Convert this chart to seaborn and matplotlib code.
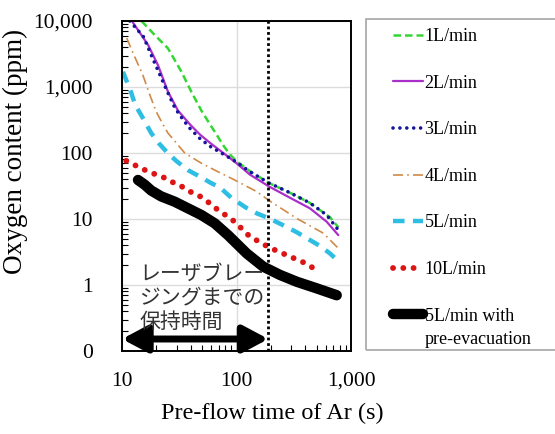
import numpy as np
import pandas as pd
import matplotlib
matplotlib.use("Agg")
import matplotlib.pyplot as plt
import seaborn as sns
from matplotlib.ticker import LogLocator, NullFormatter, FixedLocator, FixedFormatter
from matplotlib.patches import Rectangle, FancyArrowPatch, ArrowStyle

# ---------------- data ----------------
t_1 = [14.8, 19.3, 25.2, 33, 40.3, 49.3, 58.8, 67, 76.7, 87.7, 100, 131, 193, 293, 438, 656, 775]
o_1 = [10000, 6140, 3850, 1710, 849, 440, 270, 190, 130, 95, 75, 53, 35, 25, 17.5, 10.6, 7.5]

t_2 = [12.2, 16.9, 20.6, 25.2, 30.8, 39.3, 48, 58.8, 76.7, 100, 131, 193, 293, 438, 613, 775]
o_2 = [10000, 4330, 2150, 849, 440, 270, 190, 142, 100, 70, 47, 31, 21, 14.5, 9.1, 5.7]

t_3 = [11.7, 15.4, 18.8, 24.5, 29, 34.3, 39.3, 48, 58.8, 76.7, 100, 131, 193, 293, 438, 613, 775]
o_3 = [10000, 5780, 2560, 902, 480, 316, 235, 165, 126, 96, 73, 52, 35, 25, 17.5, 11.5, 6.8]

t_4 = [11, 12.5, 15.2, 17.5, 19.9, 22.8, 25.2, 30, 35.3, 49.3, 68.9, 96.4, 150, 193, 336, 573, 800]
o_4 = [5500, 3250, 1520, 757, 423, 270, 200, 140, 100, 70, 52, 39, 26, 19, 10.2, 6.1, 3.4]

t_5 = [10.2, 12.1, 13, 15.2, 18, 21, 25.2, 30, 37.7, 50, 60, 71.8, 90, 120, 150, 193, 250, 336, 536, 656, 775]
o_5 = [1700, 800, 540, 340, 200, 140, 99, 75, 55, 42, 35, 30, 21, 15, 12.2, 10.2, 8.2, 6.3, 3.9, 3.0, 2.3]

t_10 = [10.9, 13.3, 16.3, 19.3, 23.6, 27, 31.9, 37.7, 46.1, 54.5, 68.9, 84.3, 96.4, 107, 131, 159, 193, 293, 410, 519]
o_10 = [76, 64, 54, 48, 42, 36.7, 32.7, 26.8, 23.1, 19, 13.7, 10.8, 9.1, 7.6, 5.4, 4.5, 3.7, 2.7, 2.1, 1.6]

t_5e = [13.8, 15.8, 18, 22, 28.8, 37.7, 49.3, 64.5, 84.3, 99.5, 123, 171, 240, 336, 501, 750]
o_5e = [39, 33, 27, 22, 18.3, 14.5, 11.5, 8.6, 5.7, 4.3, 3.0, 1.9, 1.42, 1.12, 0.89, 0.70]

series_labels = ["1L/min", "2L/min", "3L/min", "4L/min", "5L/min", "10L/min", "5L/min with"]
label_extra = "pre-evacuation"

x_ticks = [10, 100, 1000]
x_tick_labels = ["10", "100", "1,000"]
y_ticks = [0.1, 1, 10, 100, 1000, 10000]
y_tick_labels = ["0", "1", "10", "100", "1,000", "10,000"]

hold_time = 190
jp_note = "レーザブレー\nジングまでの\n保持時間"
x_title = "Pre-flow time of Ar (s)"
y_title = "Oxygen content (ppm)"

# ---------------- styling ----------------
sns.set_theme(style="white")
plt.rcParams["font.family"] = ["Liberation Serif", "DejaVu Serif"]

W, H = 555, 434
fig = plt.figure(figsize=(W / 100, H / 100), dpi=100)
ax = fig.add_axes([122 / W, 1 - 351 / H, (351 - 122) / W, (351 - 21) / H])

styles = [
    dict(color="#33d633", lw=1.8, linestyle=(0, (3, 1.6))),
    dict(color="#aa2ec8", lw=1.6, linestyle="-"),
    dict(color="#14149e", lw=2.6, linestyle=(0, (0.01, 1.9)), dash_capstyle="round"),
    dict(color="#d08a48", lw=1.2, linestyle=(0, (6, 2.5, 1, 2.5))),
    dict(color="#2ebde3", lw=3.2, linestyle=(0, (2.6, 1.9))),
    dict(color="#dd1414", lw=4.2, linestyle=(0, (0.01, 1.75)), dash_capstyle="round"),
    dict(color="#000000", lw=7.5, linestyle="-", solid_capstyle="round"),
]
all_t = [t_1, t_2, t_3, t_4, t_5, t_10, t_5e]
all_o = [o_1, o_2, o_3, o_4, o_5, o_10, o_5e]

for t, o, lab, st in zip(all_t, all_o, series_labels, styles):
    df = pd.DataFrame({"t": t, "o": o})
    sns.lineplot(data=df, x="t", y="o", ax=ax, label=lab, sort=False, estimator=None, **st)

ax.set_xscale("log")
ax.set_yscale("log")
ax.set_xlim(10, 1000)
ax.set_ylim(0.1, 10000)

ax.xaxis.set_major_locator(FixedLocator(x_ticks))
ax.xaxis.set_major_formatter(FixedFormatter(x_tick_labels))
ax.yaxis.set_major_locator(FixedLocator(y_ticks))
ax.yaxis.set_major_formatter(FixedFormatter(y_tick_labels))
ax.xaxis.set_minor_locator(LogLocator(base=10, subs=np.arange(2, 10), numticks=20))
ax.yaxis.set_minor_locator(LogLocator(base=10, subs=np.arange(2, 10), numticks=20))
ax.xaxis.set_minor_formatter(NullFormatter())
ax.yaxis.set_minor_formatter(NullFormatter())

ax.tick_params(axis="x", which="major", length=0, pad=15, labelsize=15.5, colors="black")
ax.tick_params(axis="y", which="major", length=0, pad=21, labelsize=15.5, colors="black")
ax.tick_params(which="minor", direction="in", length=4, width=0.8, color="black",
               bottom=True, left=True, top=False, right=False)

ax.grid(which="major", color="#dcdcdc", lw=1)
ax.grid(which="minor", visible=False)
for s in ax.spines.values():
    s.set_color("black")
    s.set_linewidth(1.4)

ax.axvline(hold_time, color="black", lw=2, linestyle=(0, (1, 1)), zorder=5)

# arrow for holding time
arr = FancyArrowPatch((10, 0.152), (hold_time, 0.152),
                      arrowstyle=ArrowStyle("<|-|>", head_length=15, head_width=8),
                      mutation_scale=1, lw=5, color="black", shrinkA=0, shrinkB=0,
                      zorder=6, clip_on=False)
ax.add_patch(arr)

ax.text(0.075, 0.162, jp_note, transform=ax.transAxes, ha="left", va="center",
        fontsize=15, color="#333333", linespacing=1.12,
        family=["Noto Sans CJK JP", "DejaVu Sans"], zorder=7)

ax.set_xlabel(x_title, fontsize=17.5, color="black")
ax.set_ylabel(y_title, fontsize=19.5, color="black")
ax.xaxis.label.set_va("center")
ax.yaxis.label.set_va("center")
ax.xaxis.set_label_coords((272 - 122) / 229, (351 - 413) / 330)
ax.yaxis.set_label_coords((15 - 122) / 229, (351 - 151) / 330)

# legend
handles, labels = ax.get_legend_handles_labels()
if ax.get_legend():
    ax.get_legend().remove()
leg = fig.legend(handles, labels, loc="upper left",
                 bbox_to_anchor=(393 / W, 1 - 28 / H), bbox_transform=fig.transFigure,
                 frameon=False, borderpad=0, borderaxespad=0, handlelength=1.65,
                 handletextpad=0.1, labelspacing=1.64, fontsize=13)
for txt in leg.get_texts():
    txt.set_color("black")
fig.text(425 / W, 1 - 340 / H, label_extra, fontsize=13, ha="left", va="center", color="black")
fig.patches.append(Rectangle((366 / W, 1 - 350 / H), 1.0, (350 - 19) / H,
                             transform=fig.transFigure, fill=False, edgecolor="#a6a6a6",
                             lw=1.2, figure=fig))

fig.savefig("out.png", dpi=100, facecolor="white")
